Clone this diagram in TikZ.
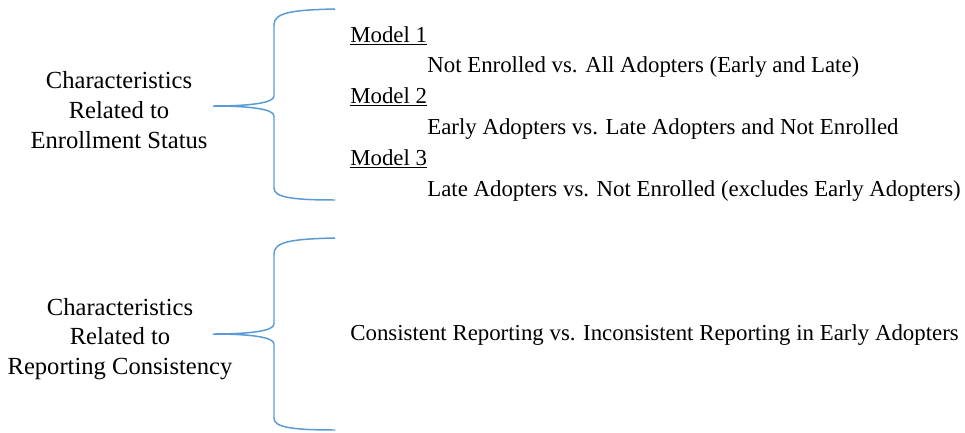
\documentclass[tikz,border=0pt]{standalone}
\usepackage{fontspec}
\setmainfont{Liberation Serif}
\definecolor{braceblue}{RGB}{91,155,213}
\begin{document}
\begin{tikzpicture}[x=0.02cm,y=-0.02cm,
  label/.style={align=center,font=\fontsize{14}{17}\selectfont,inner sep=0pt},
  item/.style={anchor=base west,font=\fontsize{13}{15.9}\selectfont,inner sep=0pt},
  bracket/.style={draw=braceblue,line width=0.85pt}]
\useasboundingbox (0,0) rectangle (965,433);
% left labels
\node[label] (enroll) at (119,110) {Characteristics\\Related to\\Enrollment Status};
\node[label] (report) at (120,339) {Characteristics\\Related to\\Reporting Consistency};
% brace tips and ends
\coordinate (tipA) at (213,106);
\coordinate (topA) at (335,9);
\coordinate (botA) at (335,200);
\coordinate (tipB) at (213,334);
\coordinate (topB) at (335,238);
\coordinate (botB) at (335,430);
\draw[bracket] (topA) .. controls (290,10) and (274,13) .. (274,25) -- (274,96)
  .. controls (274,103) and (250,106) .. (tipA)
  .. controls (250,106) and (274,109) .. (274,116) -- (274,188)
  .. controls (274,197) and (290,200) .. (botA);
\draw[bracket] (topB) .. controls (290,239) and (274,242) .. (274,254) -- (274,324)
  .. controls (274,331) and (250,334) .. (tipB)
  .. controls (250,334) and (274,337) .. (274,344) -- (274,418)
  .. controls (274,427) and (290,430) .. (botB);
% models
\node[item] (m1) at (350,42) {\underline{Model 1}};
\node[item] (m1t) at (427,72) {Not Enrolled vs. All Adopters (Early and Late)};
\node[item] (m2) at (350,103) {\underline{Model 2}};
\node[item] (m2t) at (427,134) {Early Adopters vs. Late Adopters and Not Enrolled};
\node[item] (m3) at (350,165) {\underline{Model 3}};
\node[item] (m3t) at (427,196) {Late Adopters vs. Not Enrolled (excludes Early Adopters)};
\node[item] (cons) at (350,340) {Consistent Reporting vs. Inconsistent Reporting in Early Adopters};
\end{tikzpicture}
\end{document}
